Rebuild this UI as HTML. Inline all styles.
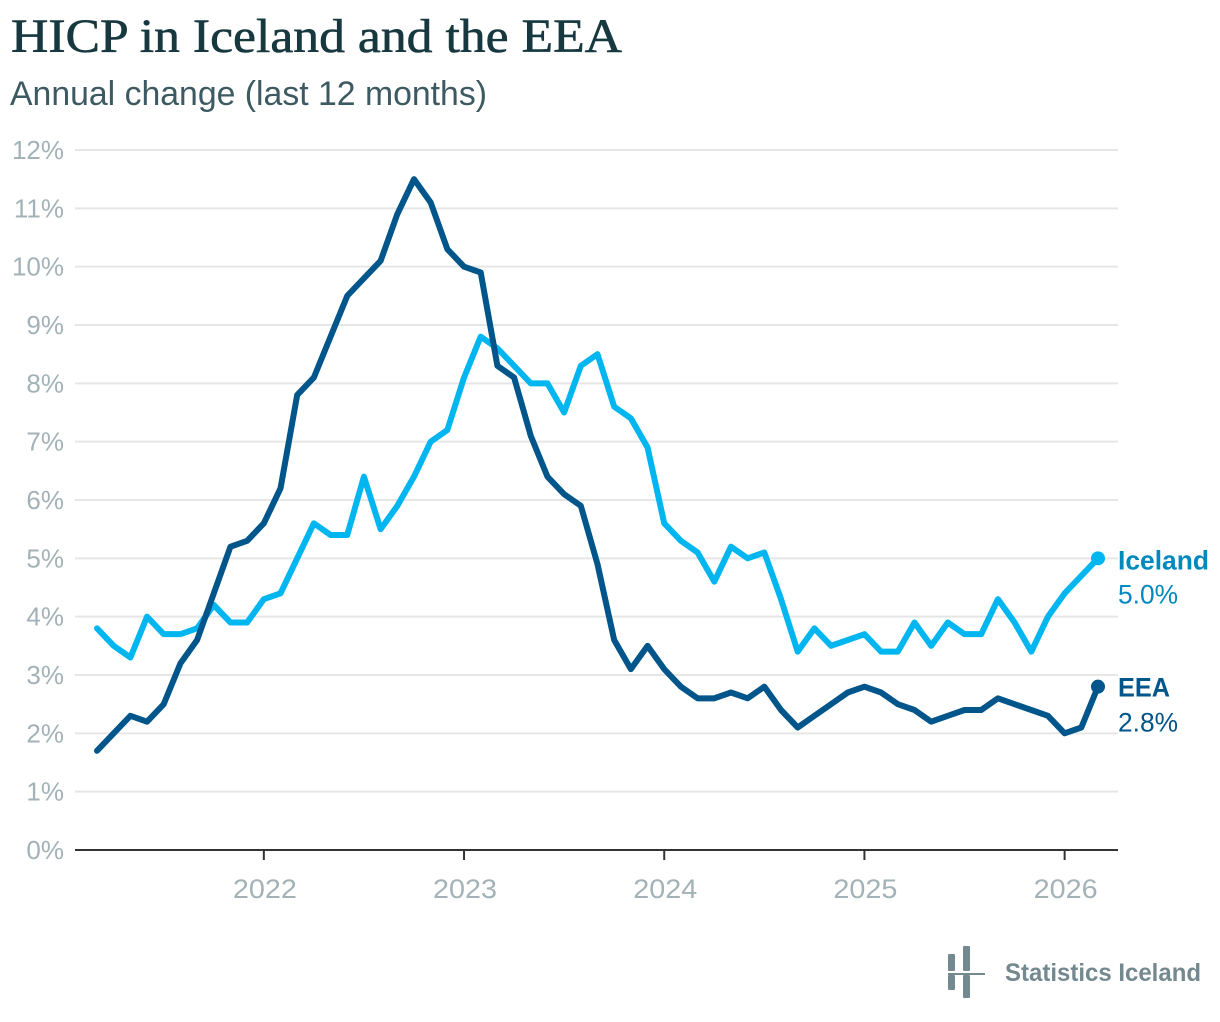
<!DOCTYPE html>
<html lang="en">
<head>
<meta charset="utf-8">
<title>HICP in Iceland and the EEA</title>
<style>
html,body{margin:0;padding:0;background:#fff;width:1220px;height:1022px;overflow:hidden}
svg{display:block}
text{font-family:"Liberation Sans",sans-serif}
</style>
</head>
<body>
<svg id="chart" xmlns="http://www.w3.org/2000/svg" width="1220" height="1022" viewBox="0 0 1220 1022">
  <text x="11" y="52" font-size="48" style="font-family:'Liberation Serif',serif" fill="#17383f" stroke="#17383f" stroke-width="0.6" textLength="611" lengthAdjust="spacingAndGlyphs">HICP in Iceland and the EEA</text>
  <text x="10" y="105" font-size="34" fill="#3d5a62" textLength="477" lengthAdjust="spacingAndGlyphs">Annual change (last 12 months)</text>
  <g id="grid"></g>
  <g id="yaxis"></g>
  <g id="xaxis"></g>
  <g id="series"></g>
  <g id="labels"></g>
  <g fill="#74898f">
    <rect x="948" y="954" width="7" height="17" rx="1"/>
    <rect x="948" y="975" width="7" height="15" rx="1"/>
    <rect x="963" y="946" width="7" height="25" rx="1"/>
    <rect x="963" y="975" width="7" height="23" rx="1"/>
    <rect x="948" y="973" width="37" height="2"/>
    <text x="1005" y="981" font-size="25" font-weight="bold" fill="#74898f" textLength="196" lengthAdjust="spacingAndGlyphs">Statistics Iceland</text>
  </g>
</svg>
<script>
const yTickValues = [0,1,2,3,4,5,6,7,8,9,10,11,12];
const xTickYears = [2022,2023,2024,2025,2026];
const startYear = 2021;
const startMonth = 2;
const iceland = [3.8,3.5,3.3,4.0,3.7,3.7,3.8,4.2,3.9,3.9,4.3,4.4,5.0,5.6,5.4,5.4,6.4,5.5,5.9,6.4,7.0,7.2,8.1,8.8,8.6,8.3,8.0,8.0,7.5,8.3,8.5,7.6,7.4,6.9,5.6,5.3,5.1,4.6,5.2,5.0,5.1,4.3,3.4,3.8,3.5,3.6,3.7,3.4,3.4,3.9,3.5,3.9,3.7,3.7,4.3,3.9,3.4,4.0,4.4,4.7,5.0];
const eea = [1.7,2.0,2.3,2.2,2.5,3.2,3.6,4.4,5.2,5.3,5.6,6.2,7.8,8.1,8.8,9.5,9.8,10.1,10.9,11.5,11.1,10.3,10.0,9.9,8.3,8.1,7.1,6.4,6.1,5.9,4.9,3.6,3.1,3.5,3.1,2.8,2.6,2.6,2.7,2.6,2.8,2.4,2.1,2.3,2.5,2.7,2.8,2.7,2.5,2.4,2.2,2.3,2.4,2.4,2.6,2.5,2.4,2.3,2.0,2.1,2.8];

const NS = 'http://www.w3.org/2000/svg';
const plot = {left:75, right:1118, top:150, bottom:850, x0:97, x1:1098};
function xScale(i){ return plot.x0 + (plot.x1 - plot.x0) * i / (iceland.length - 1); }
function yScale(v){ return plot.bottom - (plot.bottom - plot.top) * v / 12; }
function make(tag, attrs, parent, txt){
  const el = document.createElementNS(NS, tag);
  for (const k in attrs) el.setAttribute(k, attrs[k]);
  if (txt !== undefined) el.textContent = txt;
  parent.appendChild(el);
  return el;
}
const grid = document.getElementById('grid');
const yaxis = document.getElementById('yaxis');
const xaxis = document.getElementById('xaxis');
const series = document.getElementById('series');
const labels = document.getElementById('labels');

yTickValues.forEach(function(v){
  if (v > 0) {
    const g = make('line',{x1:plot.left,x2:plot.right,y1:yScale(v),y2:yScale(v),stroke:'#e6e6e6','stroke-width':2},grid);
    
    
  }
  const t = make('text',{x:64,y:yScale(v)+9,'text-anchor':'end','font-size':26,fill:'#a3b2b7'},yaxis,v+'%');
  
  
});

const axisLine = make('line',{x1:plot.left,x2:plot.right,y1:yScale(0),y2:yScale(0),stroke:'#333','stroke-width':2},xaxis);


xTickYears.forEach(function(y){
  const idx = (y - startYear) * 12 - startMonth;
  const x = xScale(idx);
  const tick = make('line',{x1:x,x2:x,y1:yScale(0),y2:yScale(0)+10,stroke:'#333','stroke-width':2},xaxis);
  
  
  const t = make('text',{x:x+1,y:yScale(0)+48,'text-anchor':'middle','font-size':27,fill:'#a3b2b7',textLength:64,lengthAdjust:'spacingAndGlyphs'},xaxis,String(y));
  
  
});

function pathFor(vals){
  return vals.map(function(v,i){ return (i ? 'L' : 'M') + xScale(i).toFixed(2) + ' ' + yScale(v).toFixed(2); }).join('');
}
const lineIceland = make('path',{d:pathFor(iceland),fill:'none',stroke:'#00b6f0','stroke-width':6,'stroke-linejoin':'round','stroke-linecap':'round'},series);


const lineEea = make('path',{d:pathFor(eea),fill:'none',stroke:'#00558a','stroke-width':6,'stroke-linejoin':'round','stroke-linecap':'round'},series);



const lastIceland = iceland[iceland.length-1];
const lastEea = eea[eea.length-1];
const lastX = xScale(iceland.length-1);
const dotIceland = make('circle',{cx:lastX,cy:yScale(lastIceland),r:7,fill:'#00b6f0'},series);


const dotEea = make('circle',{cx:lastX,cy:yScale(lastEea),r:7,fill:'#00558a'},series);



const labelX = 1118;
const nameIceland = make('text',{x:labelX,y:yScale(lastIceland)+11,'font-size':27,'font-weight':'bold',fill:'#0089bf',textLength:91,lengthAdjust:'spacingAndGlyphs'},labels,'Iceland');


const valueIceland = make('text',{x:labelX,y:yScale(lastIceland)+45,'font-size':27,fill:'#0089bf',textLength:60,lengthAdjust:'spacingAndGlyphs'},labels,lastIceland.toFixed(1)+'%');


const nameEea = make('text',{x:labelX,y:yScale(lastEea)+10,'font-size':27,'font-weight':'bold',fill:'#00558a',textLength:52,lengthAdjust:'spacingAndGlyphs'},labels,'EEA');


const valueEea = make('text',{x:labelX,y:yScale(lastEea)+45,'font-size':27,fill:'#00558a',textLength:60,lengthAdjust:'spacingAndGlyphs'},labels,lastEea.toFixed(1)+'%');


</script>
</body>
</html>
